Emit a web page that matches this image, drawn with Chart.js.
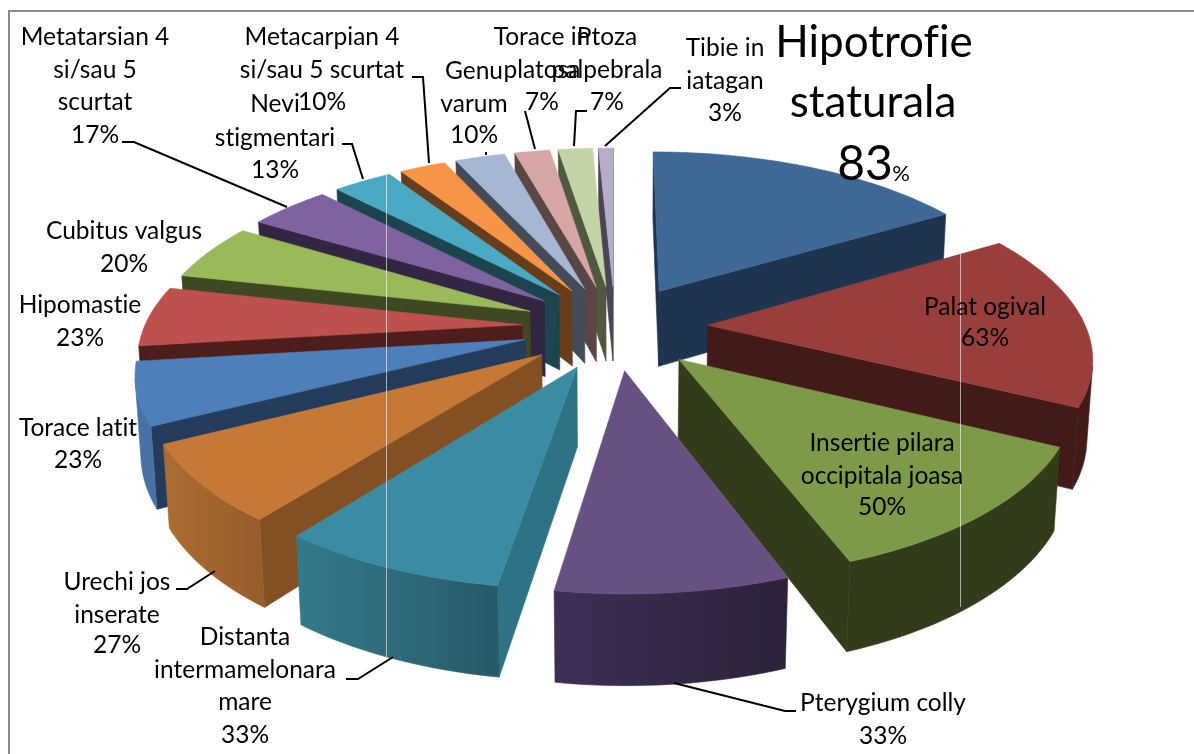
<!DOCTYPE html>
<html>
<head>
<meta charset="utf-8">
<style>
  html, body { margin: 0; padding: 0; background: #fff; }
  canvas { display: block; }
</style>
<script src="https://cdn.jsdelivr.net/npm/chart.js@4"></script>
</head>
<body>
<canvas id="chart" width="1194" height="754"></canvas>
<script>
const categories = [
  ["Hipotrofie", "staturala"],
  ["Palat ogival"],
  ["Insertie pilara", "occipitala joasa"],
  ["Pterygium colly"],
  ["Distanta", "intermamelonara", "mare"],
  ["Urechi jos", "inserate"],
  ["Torace latit"],
  ["Hipomastie"],
  ["Cubitus valgus"],
  ["Metatarsian 4", "si/sau 5", "scurtat"],
  ["Nevi", "stigmentari"],
  ["Metacarpian 4", "si/sau 5 scurtat"],
  ["Genu", "varum"],
  ["Torace in", "platosa"],
  ["Ptoza", "palpebrala"],
  ["Tibie in", "iatagan"]
];
const percents = [83, 63, 50, 33, 33, 27, 23, 23, 20, 17, 13, 10, 10, 7, 7, 3];

// face colours, one per slice
const topColors = ["#3E6997", "#9A3E3C", "#7D9A48", "#675082", "#3B8CA3", "#C67836", "#4F7FBA", "#BE504D", "#9AB958", "#7F63A1", "#4AAAC4", "#F59545", "#A6B7D4", "#D5A6A5", "#C3D4A7", "#B7ADC8"];
const wallColors = ["#1F344F", "#421A18", "#333C1A", "#2E2340", "#2E7385", "#835024", "#243B5C", "#4D1E1C", "#3E4822", "#332643", "#1C444E", "#673D1B", "#444C5A", "#5A4644", "#50583F", "#4A4556"];
const outerLeft = ["#1F344F", "#421A18", "#333C1A", "#3E2F55", "#347A8C", "#AC6C31", "#4672A6", "#4D1E1C", "#3E4822", "#332643", "#1C444E", "#673D1B", "#444C5A", "#5A4644", "#50583F", "#4A4556"];
const outerRight = ["#1F344F", "#421A18", "#333C1A", "#2C2239", "#285A68", "#975D2B", "#4672A6", "#4D1E1C", "#3E4822", "#332643", "#1C444E", "#673D1B", "#444C5A", "#5A4644", "#50583F", "#4A4556"];

// label centre x and the y of every line (last line is the percent)
const labelSpots = [
  null,
  [985, 307, 338],
  [882, 443, 476, 507],
  [883, 703, 736],
  [245, 637, 670, 702, 735],
  [117, 582, 615, 645],
  [78, 428, 460],
  [80, 305, 338],
  [124, 231, 264],
  [95, 37, 70, 102, 135],
  [275, 104, 138, 170],
  [322, 37, 70, 102],
  [474, 71, 104, 135],
  [542, 37, 70, 102],
  [607, 37, 70, 102],
  [725, 48, 81, 113]
];
const leaderLines = [
  [[122, 142], [134, 142], [287, 207]],
  [[342, 144], [352, 144], [363, 179]],
  [[412, 77], [423, 77], [429, 163]],
  [[486, 152], [486, 155]],
  [[525, 111], [535, 149]],
  [[587, 111], [576, 111], [574, 146]],
  [[681, 88], [670, 88], [605, 146]],
  [[176, 589], [187, 589], [215, 571]],
  [[346, 679], [358, 679], [393, 657]],
  [[796, 711], [785, 711], [674, 683]]
];

// view of the tilted pie
const view = { cx: 615, cy: 327, radius: 378, explode: 93, tilt: 0.455, persp: 0.00042, depth: 78, sink: 0.012 };
// the reference camera bends the angles a bit: pie angle -> angle on the tilted plane
const warpFrom = [0, 71, 125, 167, 195, 223, 249.5, 269, 289, 306, 320, 331.4, 339.9, 348.5, 360];
const warpTo = [0, 59, 117, 159.5, 188.5, 217, 246, 266, 286, 305, 319, 330, 338.5, 348, 360];
const FONT = "Lato, 'Open Sans', sans-serif";
const LABEL_SIZE = 24.5;
const DEG = Math.PI / 180;

function warp(a) {
  let d = a / DEG;
  for (let i = 1; i < warpFrom.length; i++) {
    if (d <= warpFrom[i] + 0.001) {
      let t = (d - warpFrom[i - 1]) / (warpFrom[i] - warpFrom[i - 1]);
      return (warpTo[i - 1] + t * (warpTo[i] - warpTo[i - 1])) * DEG;
    }
  }
  return a;
}

function project(X, Y, z) {
  let s = 1 / (1 + view.persp * Y + view.sink * z);
  return [view.cx + X * s, view.cy - view.tilt * Y * s + view.depth * z * s];
}

function fillPoly(ctx, pts, color) {
  ctx.beginPath();
  pts.forEach((p, i) => i ? ctx.lineTo(p[0], p[1]) : ctx.moveTo(p[0], p[1]));
  ctx.closePath();
  ctx.fillStyle = color;
  ctx.strokeStyle = color;
  ctx.lineWidth = 0.6;
  ctx.fill();
  ctx.stroke();
}

// clockwise on screen means the face looks at the viewer
function facing(pts) {
  let sum = 0;
  pts.forEach((p, i) => {
    let q = pts[(i + 1) % pts.length];
    sum += p[0] * q[1] - q[0] * p[1];
  });
  return sum > 0;
}

function drawSlice(ctx, arc, i) {
  let a0 = warp(arc.startAngle + Math.PI / 2);
  let a1 = warp(arc.endAngle + Math.PI / 2);
  let mid = (a0 + a1) / 2;
  let ox = view.explode * Math.sin(mid), oy = view.explode * Math.cos(mid);

  let rim = [];
  let steps = Math.max(2, Math.ceil((a1 - a0) / (1.5 * DEG)));
  for (let n = 0; n <= steps; n++) {
    let a = a0 + (a1 - a0) * n / steps;
    rim.push([ox + view.radius * Math.sin(a), oy + view.radius * Math.cos(a)]);
  }
  let top = p => project(p[0], p[1], 0);
  let bot = p => project(p[0], p[1], 1);
  let apex = [ox, oy];

  // two straight walls
  let wallA = [top(rim[0]), top(apex), bot(apex), bot(rim[0])];
  let wallB = [top(apex), top(rim[steps]), bot(rim[steps]), bot(apex)];
  if (facing(wallA)) fillPoly(ctx, wallA, wallColors[i]);
  if (facing(wallB)) fillPoly(ctx, wallB, wallColors[i]);

  // curved outside, only the part that looks at the viewer, as one shape
  let upper = [], lower = [];
  for (let n = steps; n > 0; n--) {
    let quad = [top(rim[n]), top(rim[n - 1]), bot(rim[n - 1]), bot(rim[n])];
    if (facing(quad)) {
      if (!upper.length) { upper.push(quad[0]); lower.push(quad[3]); }
      upper.push(quad[1]);
      lower.push(quad[2]);
    }
  }
  if (upper.length) {
    let xs = upper.map(p => p[0]);
    let grad = ctx.createLinearGradient(Math.min(...xs), 0, Math.max(...xs) + 1, 0);
    grad.addColorStop(0, outerLeft[i]);
    grad.addColorStop(1, outerRight[i]);
    fillPoly(ctx, upper.concat(lower.reverse()), grad);
  }

  fillPoly(ctx, [top(apex)].concat(rim.map(top)), topColors[i]);
}

const pie3d = {
  id: "pie3d",
  beforeDatasetDraw(chart, args) {
    let ctx = chart.ctx;
    let arcs = chart.getDatasetMeta(args.index).data;
    let order = arcs.map((arc, i) => i);
    let depthOf = arc => Math.cos(warp((arc.startAngle + arc.endAngle) / 2 + Math.PI / 2));
    order.sort((a, b) => depthOf(arcs[b]) - depthOf(arcs[a]));
    ctx.save();
    order.forEach(i => drawSlice(ctx, arcs[i], i));
    ctx.restore();
    return false;
  },
  afterDraw(chart) {
    let ctx = chart.ctx;
    ctx.save();
    ctx.textRendering = "optimizeSpeed";

    // frame, top and left only
    ctx.strokeStyle = "#8A8A8A";
    ctx.lineWidth = 2;
    ctx.beginPath();
    ctx.moveTo(9, 754);
    ctx.lineTo(9, 11);
    ctx.lineTo(1194, 11);
    ctx.stroke();

    // thin light seams across the picture
    ctx.strokeStyle = "rgba(255,255,255,0.6)";
    ctx.lineWidth = 1;
    ctx.beginPath();
    ctx.moveTo(386.5, 172);
    ctx.lineTo(386.5, 657);
    ctx.moveTo(960.5, 253);
    ctx.lineTo(960.5, 607);
    ctx.stroke();

    ctx.strokeStyle = "#000";
    ctx.lineWidth = 2;
    leaderLines.forEach(line => {
      ctx.beginPath();
      line.forEach((p, i) => i ? ctx.lineTo(p[0], p[1]) : ctx.moveTo(p[0], p[1]));
      ctx.stroke();
    });

    ctx.fillStyle = "#000";
    ctx.textAlign = "center";
    ctx.textBaseline = "middle";
    ctx.font = LABEL_SIZE + "px " + FONT;
    categories.forEach((lines, i) => {
      let spot = labelSpots[i];
      if (!spot) return;
      lines.concat(percents[i] + "%").forEach((txt, n) => ctx.fillText(txt, spot[0], spot[n + 1]));
    });

    // first slice has the big label
    ctx.font = "44px " + FONT;
    ctx.fillText(categories[0][0], 874, 43);
    ctx.fillText(categories[0][1], 873, 103);
    ctx.font = "48px " + FONT;
    ctx.fillText(String(percents[0]), 865, 165);
    ctx.font = "22px " + FONT;
    ctx.fillText("%", 901, 174);
    ctx.restore();
  }
};

new Chart(document.getElementById("chart"), {
  type: "pie",
  data: {
    labels: categories.map(c => c.join(" ")),
    datasets: [{ data: percents, backgroundColor: topColors, borderWidth: 0 }]
  },
  options: {
    responsive: false,
    animation: false,
    devicePixelRatio: 1,
    rotation: 0,
    plugins: { legend: { display: false }, tooltip: { enabled: false }, title: { display: false } }
  },
  plugins: [pie3d]
});
</script>
</body>
</html>
